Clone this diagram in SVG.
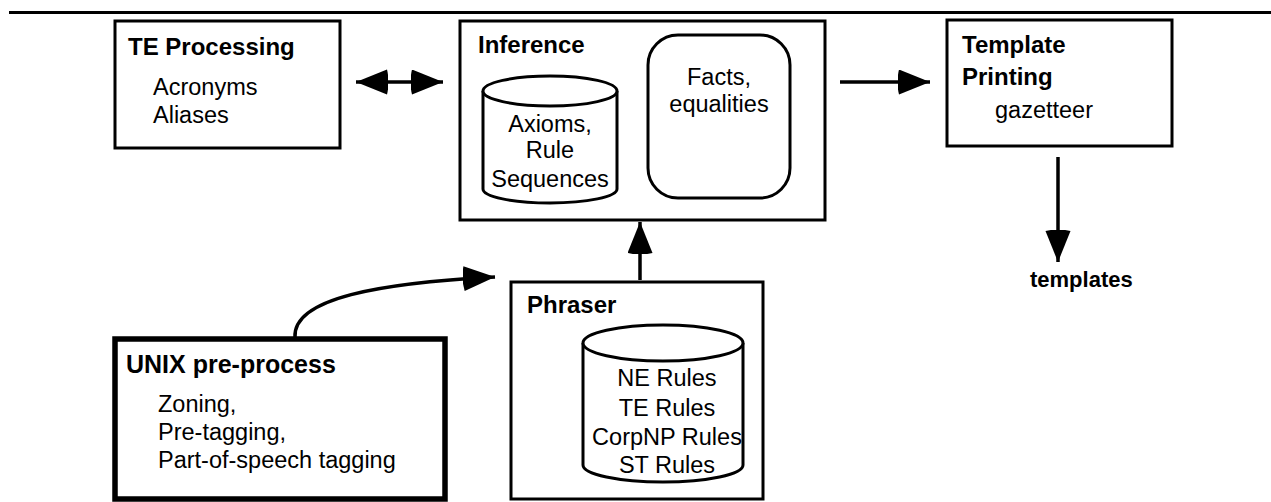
<svg xmlns="http://www.w3.org/2000/svg" width="1271" height="502" viewBox="0 0 1271 502">
  <style>
    .box { fill: #fff; stroke: #000; stroke-width: 3; }
    .heavy { fill: #fff; stroke: #000; stroke-width: 5.5; }
    .store { fill: #fff; stroke: #000; stroke-width: 3; }
    .title { font-family: "Liberation Sans", Arial, sans-serif; font-weight: bold; font-size: 24px; fill: #000; }
    .body { font-family: "Liberation Sans", Arial, sans-serif; font-size: 23.5px; fill: #000; }
    .mid { text-anchor: middle; }
    .link { fill: none; stroke: #000; stroke-width: 3.5; }
  </style>
  <defs>
    <marker id="head" markerUnits="userSpaceOnUse" markerWidth="36" markerHeight="28" refX="32" refY="12.5" orient="auto-start-reverse">
      <path d="M1,0 L32,12.5 L1,25 Q-2,12.5 1,0 Z" fill="#000"/>
    </marker>
  </defs>

  <rect width="1271" height="502" fill="#fff"/>

  <!-- page rule -->
  <line x1="9" y1="12.5" x2="1271" y2="12.5" stroke="#000" stroke-width="3"/>

  <g id="te-processing">
    <rect class="box" x="115" y="21" width="225" height="127"/>
    <text class="title" x="128" y="55">TE Processing</text>
    <text class="body" x="153" y="95">Acronyms</text>
    <text class="body" x="153" y="123">Aliases</text>
  </g>

  <g id="inference">
    <rect class="box" x="460" y="21" width="365" height="199"/>
    <text class="title" x="478" y="53">Inference</text>
    <g id="axioms-store">
      <path class="store" d="M483,91 L483,189 A67,14 0 0 0 617,189 L617,91"/>
      <ellipse class="store" cx="550" cy="91" rx="67" ry="15"/>
      <text class="body mid" x="550" y="132">Axioms,</text>
      <text class="body mid" x="550" y="158">Rule</text>
      <text class="body mid" x="550" y="187">Sequences</text>
    </g>
    <g id="facts">
      <rect class="box" x="648" y="35" width="142" height="163" rx="30" ry="30"/>
      <text class="body mid" x="719" y="85">Facts,</text>
      <text class="body mid" x="719" y="112">equalities</text>
    </g>
  </g>

  <g id="template-printing">
    <rect class="box" x="947" y="20" width="225" height="126"/>
    <text class="title" x="962" y="53">Template</text>
    <text class="title" x="962" y="85">Printing</text>
    <text class="body" x="995" y="118">gazetteer</text>
  </g>

  <g id="templates">
    <text class="title" x="1030" y="287" style="font-size:22px">templates</text>
  </g>

  <g id="phraser">
    <rect class="box" x="511" y="282" width="252" height="217"/>
    <text class="title" x="527" y="313">Phraser</text>
    <g id="rules-store">
      <path class="store" d="M583,343 L583,465 A80,17 0 0 0 743,465 L743,343"/>
      <ellipse class="store" cx="663" cy="343" rx="80" ry="18"/>
      <text class="body mid" x="667" y="386">NE Rules</text>
      <text class="body mid" x="667" y="416">TE Rules</text>
      <text class="body mid" x="667" y="445">CorpNP Rules</text>
      <text class="body mid" x="667" y="473">ST Rules</text>
    </g>
  </g>

  <g id="unix-preprocess">
    <rect class="heavy" x="115" y="339" width="330" height="160"/>
    <text class="title" x="126" y="373" style="font-size:25px">UNIX pre-process</text>
    <text class="body" x="158" y="412">Zoning,</text>
    <text class="body" x="158" y="440">Pre-tagging,</text>
    <text class="body" x="158" y="468">Part-of-speech tagging</text>
  </g>

  <g id="connectors">
    <!-- TE Processing <-> Inference -->
    <line class="link" x1="356" y1="82" x2="443" y2="82" marker-start="url(#head)" marker-end="url(#head)"/>
    <!-- Inference -> Template Printing -->
    <line class="link" x1="840" y1="82" x2="930" y2="82" marker-end="url(#head)"/>
    <!-- Template Printing -> templates -->
    <line class="link" x1="1058" y1="157" x2="1058" y2="262" marker-end="url(#head)"/>
    <!-- Phraser -> Inference -->
    <line class="link" x1="640" y1="280" x2="640" y2="222" marker-end="url(#head)"/>
    <!-- UNIX pre-process -> Phraser -->
    <path class="link" d="M295,337 C293,298 380,283 495,277" marker-end="url(#head)"/>
  </g>
</svg>
